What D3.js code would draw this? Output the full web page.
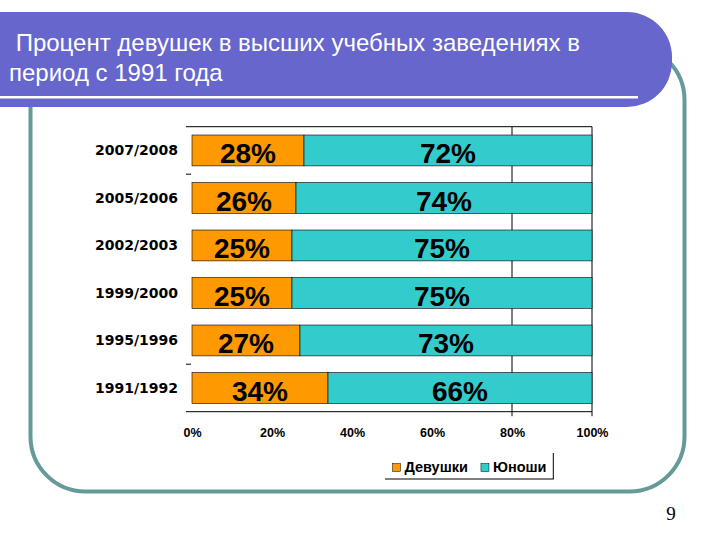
<!DOCTYPE html>
<html>
<head>
<meta charset="utf-8">
<script src="https://cdn.jsdelivr.net/npm/d3@7/dist/d3.min.js"></script>
<style>
  body { margin: 0; background: #fff; }
  text { font-family: "Liberation Sans", Arial, sans-serif; }
</style>
</head>
<body>
<div id="chart"></div>
<script>
// data
var years = ["2007/2008", "2005/2006", "2002/2003", "1999/2000", "1995/1996", "1991/1992"];
var girls = [28, 26, 25, 25, 27, 34];
var boys  = [72, 74, 75, 75, 73, 66];
var seriesNames = ["Девушки", "Юноши"];
var tickValues = [0, 20, 40, 60, 80, 100];
var titleLines = [" Процент девушек в высших учебных заведениях в", "период с 1991 года"];
var pageNumber = "9";

var colors = ["#FF9900", "#33CCCC"];

var svg = d3.select("#chart").append("svg")
    .attr("width", 720)
    .attr("height", 540);

svg.append("rect").attr("width", 720).attr("height", 540).attr("fill", "#fff");

// slide frame
svg.append("rect")
    .attr("x", 30.5).attr("y", 45)
    .attr("width", 654).attr("height", 446.5)
    .attr("rx", 55).attr("ry", 55)
    .attr("fill", "none")
    .attr("stroke", "#669999")
    .attr("stroke-width", 4);

// title banner
svg.append("rect")
    .attr("x", -60).attr("y", 12)
    .attr("width", 732).attr("height", 95)
    .attr("rx", 45).attr("ry", 45)
    .attr("fill", "#6666CC");

svg.append("line")
    .attr("x1", 0).attr("x2", 638)
    .attr("y1", 97.3).attr("y2", 97.3)
    .attr("stroke", "#fff")
    .attr("stroke-width", 2.5);

svg.selectAll(".title").data(titleLines).enter().append("text")
    .attr("class", "title")
    .attr("x", 9)
    .attr("y", (d, i) => 50.7 + i * 30)
    .attr("fill", "#fff")
    .style("font-size", "24px")
    .style("white-space", "pre")
    .text(d => d);

// chart
var pLeft = 192, pRight = 592, pTop = 126.7, pBottom = 411.7;

var x = d3.scaleLinear().domain([0, 100]).range([pLeft, pRight]);
var y = d3.scaleBand().domain(years).range([pTop, pBottom])
    .paddingInner(0.35).paddingOuter(0.175);

var rows = years.map((d, i) => ({year: d, values: [girls[i], boys[i]]}));
var stack = rows.map(r => {
    var acc = 0;
    return r.values.map((v, k) => { var s = {year: r.year, k: k, v: v, x0: acc, x1: acc + v}; acc += v; return s; });
});

// gridline at 80%
svg.append("line")
    .attr("x1", x(80)).attr("x2", x(80))
    .attr("y1", pTop).attr("y2", pBottom + 4.5)
    .attr("stroke", "#000").attr("stroke-width", 1);

// plot border pieces
svg.append("line")
    .attr("x1", pLeft - 6).attr("x2", pRight)
    .attr("y1", pTop).attr("y2", pTop)
    .attr("stroke", "#000").attr("stroke-width", 1);
svg.append("line")
    .attr("x1", pLeft - 6).attr("x2", pRight)
    .attr("y1", pBottom).attr("y2", pBottom)
    .attr("stroke", "#000").attr("stroke-width", 1);
svg.append("line")
    .attr("x1", pRight).attr("x2", pRight)
    .attr("y1", pTop).attr("y2", pBottom + 4.5)
    .attr("stroke", "#000").attr("stroke-width", 1);

// the two category ticks that show
[years[1], years[5]].forEach(function(c) {
    var yy = y(c) - y.step() * y.paddingInner() / 2;
    svg.append("line")
        .attr("x1", pLeft - 6).attr("x2", pLeft - 1)
        .attr("y1", yy).attr("y2", yy)
        .attr("stroke", "#000").attr("stroke-width", 1);
});

var g = svg.append("g");
var segs = g.selectAll("g.row").data(stack).enter().append("g").attr("class", "row")
    .selectAll("g.seg").data(d => d).enter().append("g").attr("class", "seg");

segs.append("rect")
    .attr("x", d => x(d.x0))
    .attr("y", d => y(d.year))
    .attr("width", d => x(d.x1) - x(d.x0))
    .attr("height", y.bandwidth())
    .attr("fill", d => colors[d.k])
    .attr("stroke", "#000")
    .attr("stroke-width", 0.6);

segs.append("text")
    .attr("x", d => x((d.x0 + d.x1) / 2))
    .attr("y", d => y(d.year) + y.bandwidth() - 2.7)
    .attr("text-anchor", "middle")
    .style("font-size", "28px")
    .style("font-weight", "bold")
    .attr("fill", "#000")
    .text(d => d.v + "%");

// category labels
svg.selectAll(".cat").data(years).enter().append("text")
    .attr("class", "cat")
    .attr("x", 178)
    .attr("y", d => y(d) + y.bandwidth() / 2)
    .attr("dy", "0.36em")
    .attr("text-anchor", "end")
    .style("font-family", "'DejaVu Sans', sans-serif")
    .style("font-size", "14px")
    .style("font-weight", "bold")
    .text(d => d);

// x axis labels
var xAxis = d3.axisBottom(x).tickValues(tickValues).tickSize(0).tickPadding(16)
    .tickFormat(d => d + "%");
var ax = svg.append("g").attr("transform", "translate(0," + pBottom + ")").call(xAxis);
ax.select(".domain").remove();
ax.selectAll("text")
    .style("font-family", "'Liberation Sans', Arial, sans-serif")
    .style("font-size", "12.5px")
    .style("font-weight", "bold")
    .attr("fill", "#000");

// legend
var lg = svg.append("g").attr("transform", "translate(392.5,0)");
var cx = 0;
seriesNames.forEach(function(name, i) {
    lg.append("rect")
        .attr("x", cx).attr("y", 463.5)
        .attr("width", 8).attr("height", 8)
        .attr("fill", colors[i])
        .attr("stroke", "#000").attr("stroke-width", 0.5);
    var t = lg.append("text")
        .attr("x", cx + 12).attr("y", 471.7)
        .style("font-size", "14.5px")
        .style("font-weight", "bold")
        .text(name);
    cx += 12 + t.node().getComputedTextLength() + 13;
});
svg.append("line")
    .attr("x1", 553.3).attr("x2", 553.3).attr("y1", 453).attr("y2", 479)
    .attr("stroke", "#000").attr("stroke-width", 1);
svg.append("line")
    .attr("x1", 385).attr("x2", 553.8).attr("y1", 479).attr("y2", 479)
    .attr("stroke", "#000").attr("stroke-width", 1);

// page number
svg.append("text")
    .attr("x", 671).attr("y", 520)
    .attr("text-anchor", "middle")
    .style("font-family", "'Liberation Serif', 'Times New Roman', serif")
    .style("font-size", "19px")
    .text(pageNumber);
</script>
</body>
</html>
